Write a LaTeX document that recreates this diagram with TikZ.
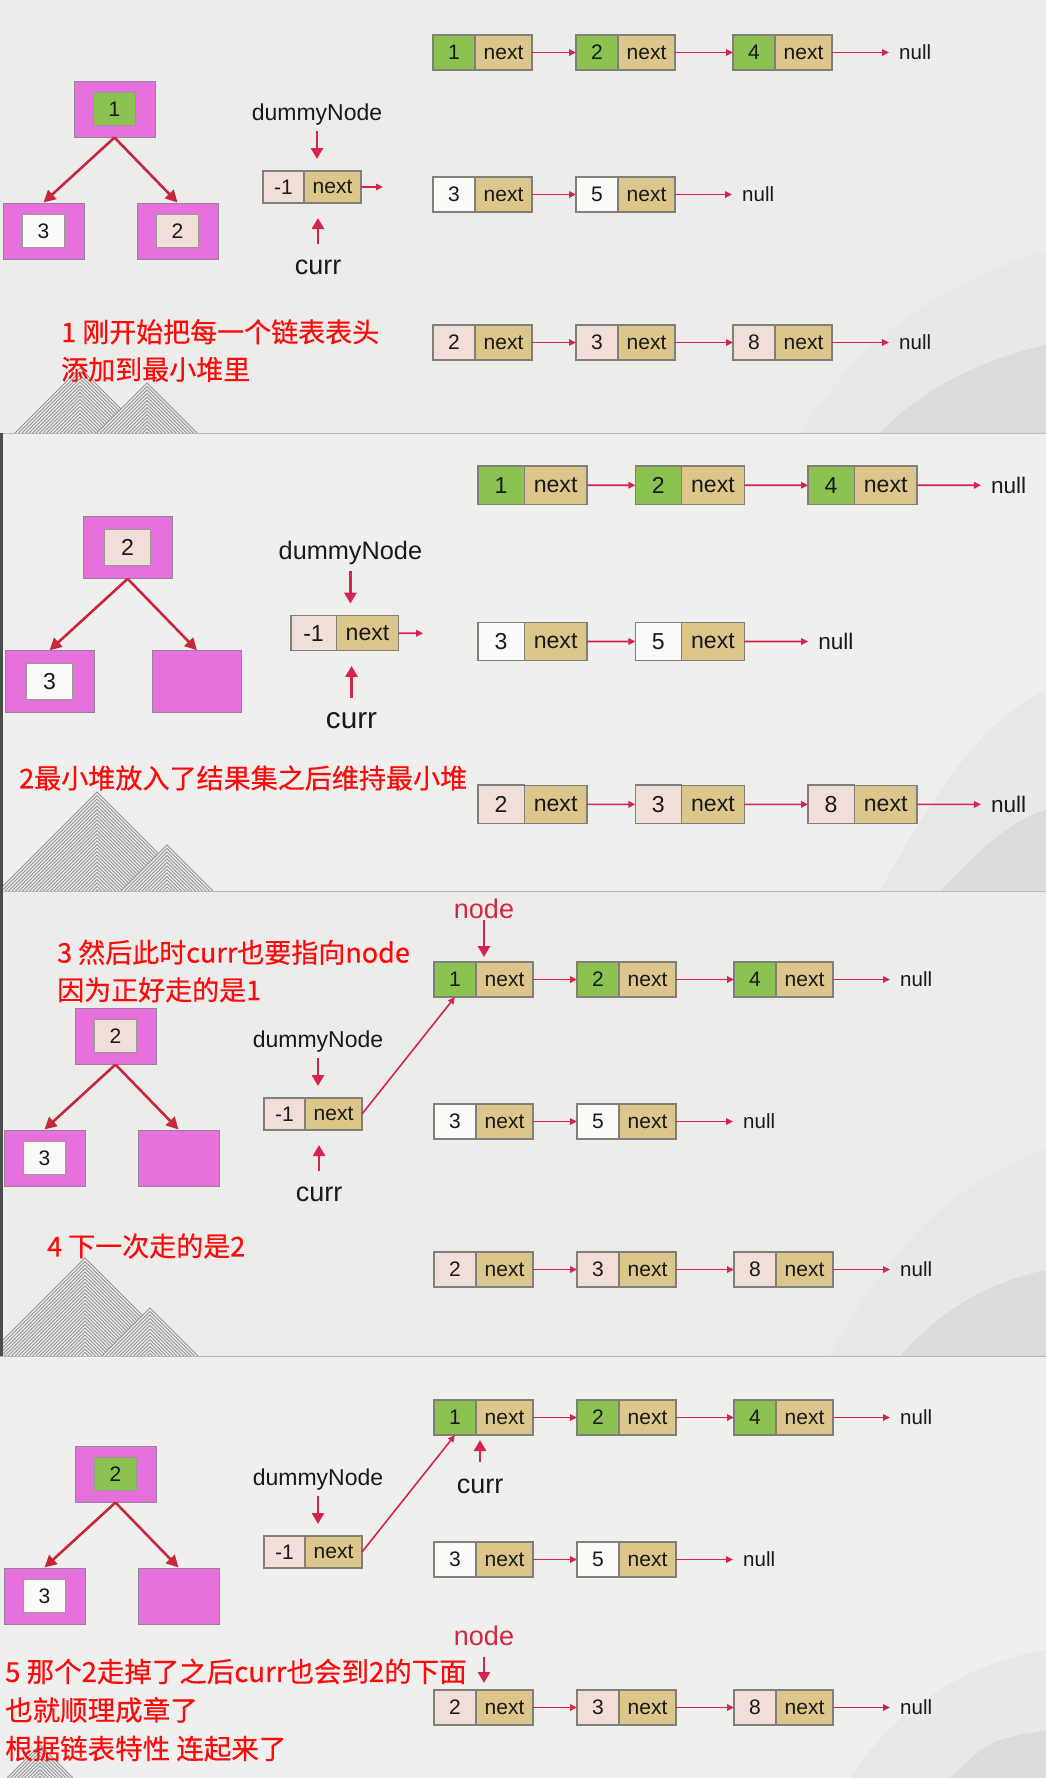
\documentclass[tikz,border=0pt]{standalone}
\usepackage{fontspec}
\setmainfont{Liberation Sans}
\newfontfamily\cjkfont{Noto Sans CJK SC}[FakeBold=0.5]
\usetikzlibrary{arrows.meta,positioning,calc}

\definecolor{paperA}{RGB}{236,236,234}
\definecolor{paperB}{RGB}{239,239,237}
\definecolor{heapfill}{RGB}{230,112,220}
\definecolor{heapline}{RGB}{150,132,150}
\definecolor{valgreen}{RGB}{140,194,82}
\definecolor{valpink}{RGB}{241,222,216}
\definecolor{valwhite}{RGB}{250,250,248}
\definecolor{nextfill}{RGB}{220,198,140}
\definecolor{boxline}{RGB}{128,128,120}
\definecolor{linkred}{RGB}{214,36,78}
\definecolor{heapred}{RGB}{200,40,60}
\definecolor{notered}{RGB}{250,12,12}
\definecolor{ptrred}{RGB}{208,40,64}
\definecolor{ink}{RGB}{25,25,25}

% one list cell: value part + next part
\newcommand{\lnode}[5]{%
  \node[val, fill=#5] (#1v) at (#2,#3) {#4};
  \node[nxt, right=0pt of #1v] (#1n) {next};%
}

% the three linked lists of a panel
\newcommand{\linkrows}[1]{%
  \lnode{#1a1}{454}{52.5}{1}{valgreen}
  \lnode{#1a2}{597}{52.5}{2}{valgreen}
  \lnode{#1a3}{754}{52.5}{4}{valgreen}
  \node[nulltxt, right=67pt of #1a3n] (#1anull) {null};
  \lnode{#1b1}{454}{194.5}{3}{valwhite}
  \lnode{#1b2}{597}{194.5}{5}{valwhite}
  \node[nulltxt, right=67pt of #1b2n] (#1bnull) {null};
  \lnode{#1c1}{454}{342.5}{2}{valpink}
  \lnode{#1c2}{597}{342.5}{3}{valpink}
  \lnode{#1c3}{754}{342.5}{8}{valpink}
  \node[nulltxt, right=67pt of #1c3n] (#1cnull) {null};
  \draw[link] (#1a1n) -- (#1a2v);
  \draw[link] (#1a2n) -- (#1a3v);
  \draw[link, shorten >=10pt] (#1a3n) -- (#1anull);
  \draw[link] (#1b1n) -- (#1b2v);
  \draw[link, shorten >=10pt] (#1b2n) -- (#1bnull);
  \draw[link] (#1c1n) -- (#1c2v);
  \draw[link] (#1c2n) -- (#1c3v);
  \draw[link, shorten >=10pt] (#1c3n) -- (#1cnull);%
}

% dummy head with its label
\newcommand{\dummy}[1]{%
  \node[lbl, anchor=base] (#1dlab) at (317,120) {dummyNode};
  \node[val, fill=valpink, minimum width=41pt, minimum height=32pt] (#1dv) at (283.5,187) {-1};
  \node[nxt, minimum height=32pt, right=0pt of #1dv] (#1dn) {next};
  \draw[ptr, shorten <=6pt, shorten >=12pt] (#1dlab.south) -- (#1dlab.south |- #1dv.north);%
}
\newcommand{\currbelow}[1]{%
  \node[currlbl, anchor=base] (#1curr) at (318,274) {curr};
  \draw[ptr, shorten <=15pt, shorten >=15pt] (#1curr.north) -- (#1curr.north |- #1dv.south);%
}

% heap frame
\newcommand{\heapboxes}[1]{%
  \node[heapbox] (#1h1) at (114.5,109) {};
  \node[heapbox] (#1h2) at (43.5,231) {};
  \node[heapbox] (#1h3) at (177.5,231) {};
  \draw[heaparr] (#1h1.south) -- (#1h2.north);
  \draw[heaparr] (#1h1.south) -- (#1h3.north);%
}

% striped hill in the background
\newcommand{\hill}[3]{%
  \pgfmathsetmacro{\hh}{#3-#2}
  \fill[paperA] ({#1-\hh},#3) -- (#1,#2) -- ({#1+\hh},#3) -- cycle;
  \foreach \k in {0,3.5,...,\hh}
    \draw[gray!85, line width=0.8pt] ({#1-\hh+\k},#3) -- (#1,{#2+\k}) -- ({#1+\hh-\k},#3);%
}

\begin{document}
\begin{tikzpicture}[x=1pt, y=-1pt,
    val/.style={draw=boxline, line width=1.1pt, minimum width=42pt, minimum height=35pt, inner sep=0pt, outer sep=0pt, font=\fontsize{21}{21}\selectfont, text=ink},
    nxt/.style={val, fill=nextfill, minimum width=57pt},
    nulltxt/.style={inner sep=0pt, font=\fontsize{20.5}{20.5}\selectfont, text=ink},
    lbl/.style={inner sep=0pt, font=\fontsize{23}{23}\selectfont, text=ink},
    currlbl/.style={inner sep=0pt, font=\fontsize{27}{27}\selectfont, text=ink},
    ptrlbl/.style={inner sep=0pt, font=\fontsize{27}{27}\selectfont, text=ptrred},
    heapbox/.style={draw=heapline, line width=1pt, fill=heapfill, minimum width=81pt, minimum height=56pt, inner sep=0pt},
    hval/.style={draw=boxline!80, line width=0.9pt, minimum width=42pt, minimum height=33pt, inner sep=0pt, font=\fontsize{21}{21}\selectfont, text=ink},
    note/.style={inner sep=0pt, anchor=west, align=left, text=notered, font=\cjkfont\fontsize{27}{37.5}\selectfont},
    link/.style={draw=linkred, line width=1.6pt, -{Triangle[length=7pt,width=6.5pt]}},
    ptr/.style={draw=linkred, line width=2.6pt, -{Triangle[length=11pt,width=12pt]}},
    heaparr/.style={draw=heapred, line width=2.6pt, -{Triangle[length=12pt,width=12pt]}}
]
\useasboundingbox (0,0) rectangle (1046,1778);

% backgrounds
\fill[paperA] (0,0) rectangle (1046,433);
\fill[paperB] (0,433) rectangle (1046,891);
\fill[paperA] (0,891) rectangle (1046,1356);
\fill[paperB] (0,1356) rectangle (1046,1778);

\begin{scope}
  \clip (0,0) rectangle (1046,433);
  \fill[gray!18] (800,433) .. controls (850,360) and (900,300) .. (1046,250) -- (1046,433) -- cycle;
  \fill[gray!28] (880,433) .. controls (920,390) and (980,360) .. (1046,345) -- (1046,433) -- cycle;
  \hill{80}{368}{433}
  \hill{147}{383}{433}
\end{scope}
\begin{scope}
  \clip (0,433) rectangle (1046,891);
  \fill[gray!18] (880,891) .. controls (930,800) and (980,720) .. (1046,690) -- (1046,891) -- cycle;
  \fill[gray!28] (940,891) .. controls (980,850) and (1010,820) .. (1046,810) -- (1046,891) -- cycle;
  \hill{97}{792}{891}
  \hill{167}{845}{891}
\end{scope}
\begin{scope}
  \clip (0,891) rectangle (1046,1356);
  \fill[gray!18] (830,1356) .. controls (880,1260) and (950,1180) .. (1046,1150) -- (1046,1356) -- cycle;
  \fill[gray!28] (900,1356) .. controls (950,1300) and (1000,1280) .. (1046,1270) -- (1046,1356) -- cycle;
  \hill{85}{1258}{1356}
  \hill{150}{1308}{1356}
\end{scope}
\begin{scope}
  \clip (0,1356) rectangle (1046,1778);
  \fill[gray!18] (850,1778) .. controls (900,1700) and (980,1660) .. (1046,1650) -- (1046,1778) -- cycle;
  \fill[gray!28] (950,1778) .. controls (990,1740) .. (1046,1730) -- (1046,1778) -- cycle;
  \hill{40}{1745}{1778}
\end{scope}
\draw[gray!55, line width=1pt] (0,433) -- (1046,433);
\draw[gray!55, line width=1pt] (0,891) -- (1046,891);
\draw[gray!55, line width=1pt] (0,1356) -- (1046,1356);
\fill[black!70] (0,433) rectangle (2.5,1356);

% panel 1
\begin{scope}
  \heapboxes{p1}
  \node[hval, fill=valgreen] (p1k1) at (p1h1) {1};
  \node[hval, fill=valwhite] (p1k2) at (p1h2) {3};
  \node[hval, fill=valpink] (p1k3) at (p1h3) {2};
  \dummy{p1}
  \currbelow{p1}
  \coordinate[right=22pt of p1dn] (p1dend);
  \draw[link] (p1dn) -- (p1dend);
  \linkrows{p1}
  \node[note] (p1note) at (61,350.5) {1 刚开始把每一个链表表头\\添加到最小堆里};
\end{scope}

% panel 2
\begin{scope}[shift={(1.7,427.5)}, scale=1.1, transform shape]
  \heapboxes{p2}
  \node[hval, fill=valpink] (p2k1) at (p2h1) {2};
  \node[hval, fill=valwhite] (p2k2) at (p2h2) {3};
  \dummy{p2}
  \currbelow{p2}
  \coordinate[right=22pt of p2dn] (p2dend);
  \draw[link] (p2dn) -- (p2dend);
  \linkrows{p2}
  \node[note, font=\cjkfont\fontsize{24.6}{30}\selectfont] (p2note) at (15.7,318.6) {2最小堆放入了结果集之后维持最小堆};
\end{scope}

% panel 3
\begin{scope}[shift={(1,927)}]
  \heapboxes{p3}
  \node[hval, fill=valpink] (p3k1) at (p3h1) {2};
  \node[hval, fill=valwhite] (p3k2) at (p3h2) {3};
  \dummy{p3}
  \currbelow{p3}
  \linkrows{p3}
  \draw[link] (p3dn.east) -- (p3a1v.south);
  \node[ptrlbl, anchor=base] (p3node) at (483,-9) {node};
  \draw[ptr, shorten <=2pt, shorten >=5pt] (p3node.south) -- (p3node.south |- p3a1n.north);
  \node[note] (p3note) at (56,44) {3 然后此时curr也要指向node\\因为正好走的是1};
  \node[note] (p3next) at (46,319) {4 下一次走的是2};
\end{scope}

% panel 4
\begin{scope}[shift={(1,1365)}]
  \heapboxes{p4}
  \node[hval, fill=valgreen] (p4k1) at (p4h1) {2};
  \node[hval, fill=valwhite] (p4k2) at (p4h2) {3};
  \dummy{p4}
  \linkrows{p4}
  \draw[link] (p4dn.east) -- (p4a1v.south);
  \node[currlbl, anchor=base] (p4curr) at (479,128) {curr};
  \draw[ptr, shorten <=16pt, shorten >=5pt] (p4curr.north) -- (p4curr.north |- p4a1n.south);
  \node[ptrlbl, anchor=base] (p4node) at (483,280) {node};
  \draw[ptr, shorten <=12pt, shorten >=7pt] (p4node.south) -- (p4node.south |- p4c1n.north);
  \node[note, font=\cjkfont\fontsize{27.5}{38.5}\selectfont] (p4note) at (4,345) {5 那个2走掉了之后curr也会到2的下面\\也就顺理成章了\\根据链表特性 连起来了};
\end{scope}
\end{tikzpicture}
\end{document}
